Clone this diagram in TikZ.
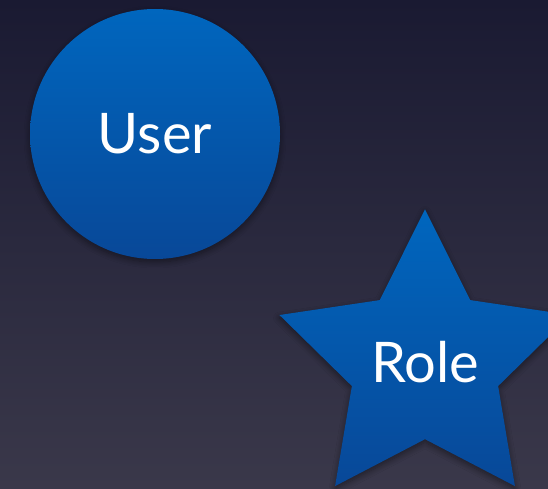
\documentclass[tikz,border=0pt]{standalone}
\usepackage{fontspec}
\setmainfont{Lato}
\usetikzlibrary{shapes.geometric,shadows.blur}
\definecolor{bgtop}{RGB}{26,26,50}
\definecolor{bgbot}{RGB}{58,56,74}
\definecolor{shtop}{RGB}{0,102,190}
\definecolor{shbot}{RGB}{8,72,152}
\tikzset{
  shapefill/.style={top color=shtop, bottom color=shbot, draw=none,
    blur shadow={shadow xshift=0pt, shadow yshift=-3pt, shadow blur steps=8, shadow blur radius=6pt, shadow opacity=45}},
  lbl/.style={text=white, font=\fontsize{56}{60}\selectfont}
}
\begin{document}
\begin{tikzpicture}[x=1pt,y=1pt]
  \shade[top color=bgtop, bottom color=bgbot] (0,0) rectangle (548,488);
  \useasboundingbox (0,0) rectangle (548,488);
  \node[circle, minimum size=250pt, inner sep=0pt, shapefill, lbl] (user) at (155,354) {User};
  \node[star, star points=5, star point ratio=1.99, minimum size=306pt, inner sep=0pt, shapefill, lbl] (role) at (425,125.7) {Role};
\end{tikzpicture}
\end{document}
